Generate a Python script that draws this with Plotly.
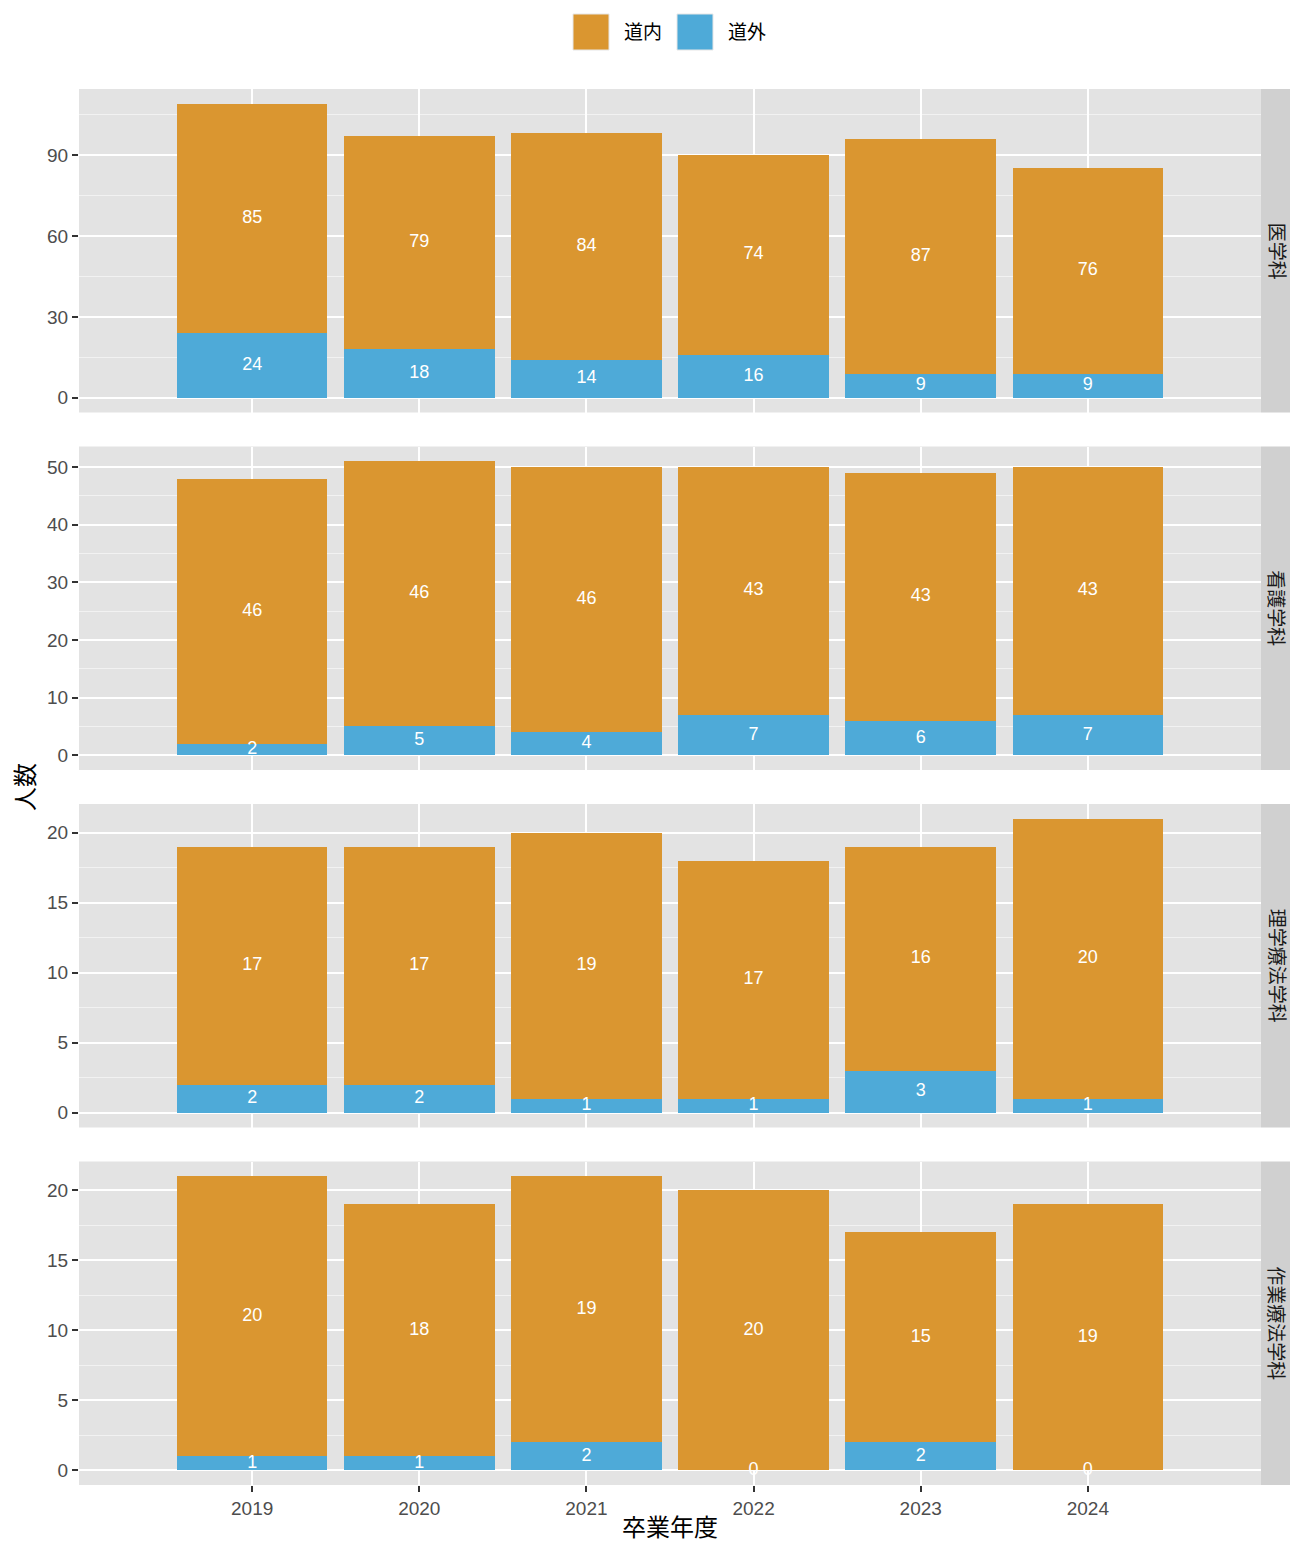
import plotly.graph_objects as go
from plotly.subplots import make_subplots

years = ["2019", "2020", "2021", "2022", "2023", "2024"]
departments = ["医学科", "看護学科", "理学療法学科", "作業療法学科"]

# 道内 / 道外 counts per department
inside = {
    "医学科": [85, 79, 84, 74, 87, 76],
    "看護学科": [46, 46, 46, 43, 43, 43],
    "理学療法学科": [17, 17, 19, 17, 16, 20],
    "作業療法学科": [20, 18, 19, 20, 15, 19],
}
outside = {
    "医学科": [24, 18, 14, 16, 9, 9],
    "看護学科": [2, 5, 4, 7, 6, 7],
    "理学療法学科": [2, 2, 1, 1, 3, 1],
    "作業療法学科": [1, 1, 2, 0, 2, 0],
}
y_dticks = [30, 10, 5, 5]

COL_IN = "#DA9630"
COL_OUT = "#4EAAD8"
PANEL_BG = "#E3E3E3"
STRIP_BG = "#D0D0D0"
FONT = "Liberation Sans, Noto Sans CJK JP, sans-serif"

W, H = 1290, 1541
ML, MR, MT, MB = 79, 29, 89, 56
PW = W - ML - MR
PH = H - MT - MB


def px_x(px):
    return (px - ML) / PW


def px_y(py):
    return (H - MB - py) / PH


fig = make_subplots(rows=4, cols=1, shared_xaxes=True, vertical_spacing=34 / PH)

for i, dep in enumerate(departments):
    row = i + 1
    out_v = outside[dep]
    in_v = inside[dep]
    fig.add_trace(go.Bar(x=years, y=out_v, name="道外", marker=dict(color=COL_OUT, line=dict(width=0)),
                         width=0.9, showlegend=False), row=row, col=1)
    fig.add_trace(go.Bar(x=years, y=in_v, name="道内", marker=dict(color=COL_IN, line=dict(width=0)),
                         width=0.9, showlegend=False), row=row, col=1)
    # labels at segment middles
    fig.add_trace(go.Scatter(x=years, y=[o / 2 for o in out_v], mode="text", text=[str(o) for o in out_v],
                             textfont=dict(color="white", size=18, family=FONT), textposition="middle center",
                             showlegend=False, hoverinfo="skip"), row=row, col=1)
    fig.add_trace(go.Scatter(x=years, y=[o + n / 2 for o, n in zip(out_v, in_v)], mode="text",
                             text=[str(n) for n in in_v],
                             textfont=dict(color="white", size=18, family=FONT), textposition="middle center",
                             showlegend=False, hoverinfo="skip"), row=row, col=1)

    ymax = max(o + n for o, n in zip(out_v, in_v))
    fig.update_yaxes(range=[-0.05 * ymax, 1.05 * ymax], tick0=0, dtick=y_dticks[i],
                     showgrid=True, gridcolor="white", gridwidth=2, zeroline=False,
                     minor=dict(dtick=y_dticks[i] / 2, showgrid=True, gridcolor="#F2F2F2", gridwidth=1),
                     ticks="outside", ticklen=6, tickwidth=1.5, tickcolor="#333333",
                     tickfont=dict(size=19, color="#4D4D4D", family=FONT),
                     showline=False, row=row, col=1)
    fig.update_xaxes(range=[-1.036, 6.036], showgrid=True, gridcolor="white", gridwidth=2,
                     zeroline=False, showline=False, row=row, col=1)

    yref = "y domain" if row == 1 else f"y{row} domain"
    fig.add_shape(type="rect", xref="paper", yref=yref, x0=1.0, x1=1 + MR / PW, y0=0, y1=1,
                  fillcolor=STRIP_BG, line=dict(width=0), layer="below")
    fig.add_annotation(text=dep, xref="paper", yref=yref, x=1 + 15 / PW, y=0.5, showarrow=False,
                       textangle=90, font=dict(size=19, color="#1A1A1A", family=FONT),
                       xanchor="center", yanchor="middle")

fig.update_xaxes(ticks="outside", ticklen=6, tickwidth=1.5, tickcolor="#333333",
                 tickfont=dict(size=19, color="#4D4D4D", family=FONT), row=4, col=1)

# axis titles
fig.add_annotation(text="人数", xref="paper", yref="paper", x=px_x(25), y=px_y(787), showarrow=False,
                   textangle=-90, font=dict(size=24, color="black", family=FONT),
                   xanchor="center", yanchor="middle")
fig.add_annotation(text="卒業年度", xref="paper", yref="paper", x=px_x(670), y=px_y(1527), showarrow=False,
                   font=dict(size=24, color="black", family=FONT), xanchor="center", yanchor="middle")

# legend drawn by hand (large ggplot-style keys)
legend_items = [("道内", COL_IN, 573), ("道外", COL_OUT, 677)]
for label, col, kx in legend_items:
    fig.add_shape(type="rect", xref="paper", yref="paper", x0=px_x(kx), x1=px_x(kx + 36),
                  y0=px_y(50), y1=px_y(14), fillcolor=col, line=dict(color="#E6E6E6", width=1))
    fig.add_annotation(text=label, xref="paper", yref="paper", x=px_x(kx + 49), y=px_y(32), showarrow=False,
                       font=dict(size=19, color="black", family=FONT), xanchor="left", yanchor="middle")

fig.update_layout(
    barmode="stack",
    bargap=0.1,
    width=W, height=H,
    margin=dict(l=ML, r=MR, t=MT, b=MB),
    plot_bgcolor=PANEL_BG,
    paper_bgcolor="white",
    font=dict(family=FONT),
    showlegend=False,
)

# drop the page's default body margin so the figure fills the window
fig.write_html("out.html", config={"displayModeBar": False},
               post_script="document.body.style.margin='0';document.body.style.overflow='hidden';")
